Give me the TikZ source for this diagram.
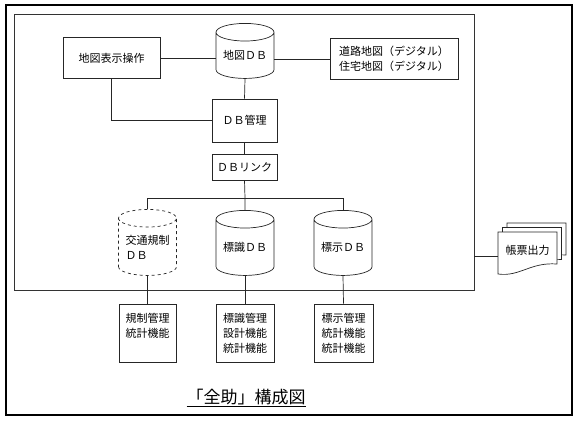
\documentclass[tikz,border=0pt]{standalone}
\usepackage{fontspec}
\setmainfont{Noto Sans CJK JP}
\usetikzlibrary{shapes.geometric}
\tikzset{
  box/.style={draw=black!85, line width=0.7pt, inner sep=2pt, align=left, font=\fontsize{11}{15}\selectfont},
  dbcyl/.style={cylinder, shape border rotate=90, draw=black!85, line width=0.7pt, aspect=0.4,
     minimum width=58pt, minimum height=55pt, inner sep=0pt, align=left, font=\fontsize{11}{15}\selectfont},
  conn/.style={draw=black!85, line width=0.7pt},
}
\begin{document}
\begin{tikzpicture}[x=1pt,y=-1pt]
\useasboundingbox (0,0) rectangle (580,420);
\draw[line width=2.4pt] (6,5) rectangle (572,415);
\node[draw=black!80, line width=0.8pt, minimum width=460pt, minimum height=276pt, inner sep=0pt] (frame) at (244,152) {};

\node[box, minimum width=97pt, minimum height=41pt] (op) at (111.5,58) {地図表示操作};
\node[dbcyl] (mapdb) at (245,55.5) {地図ＤＢ};
\node[box, minimum width=128pt, minimum height=41pt] (road) at (394,59) {道路地図（デジタル）\\住宅地図（デジタル）};
\node[box, minimum width=65pt, minimum height=43pt] (mgmt) at (244.5,120.5) {ＤＢ管理};
\node[box, minimum width=65pt, minimum height=26pt] (link) at (244.5,167) {ＤＢリンク};
\coordinate (bus) at (245,198);

\node[dbcyl, dashed, minimum height=66pt] (c1) at (147.5,247) {交通規制\\ＤＢ};
\node[dbcyl, minimum height=65pt] (c2) at (245,247.5) {標識ＤＢ};
\node[dbcyl, minimum height=65pt] (c3) at (343,247.5) {標示ＤＢ};

\node[box, minimum width=57pt, minimum height=58pt] (b1) at (147.5,333) {規制管理\\統計機能\\\mbox{}};
\node[box, minimum width=58pt, minimum height=58pt] (b2) at (245,333) {標識管理\\設計機能\\統計機能};
\node[box, minimum width=59pt, minimum height=58pt] (b3) at (343.5,333) {標示管理\\統計機能\\統計機能};

% document stack
\begin{scope}[draw=black!85, line width=0.7pt, fill=white]
\foreach \d in {9,4.5,0}{
  \filldraw[shift={(\d,-\d)}] (498,232) -- (557,232) -- (557,264) .. controls (530,262) and (520,277) .. (498,274) -- cycle;
}
\end{scope}
\node[draw=none, minimum width=59pt, minimum height=42pt, font=\fontsize{11}{15}\selectfont] (doc) at (527.5,250) {帳票出力};

\node[font=\fontsize{17}{19}\selectfont] (title) at (246,398) {\underline{「全助」構成図}};

% connectors
\draw[conn] (op.east) -- (op.east -| mapdb.west);
\draw[conn] (road.west) -- (road.west -| mapdb.east);
\draw[conn] (mapdb.south) -- (mgmt.north);
\draw[conn] (op.south) |- (mgmt.west);
\draw[conn] (mgmt.south) -- (link.north);
\draw[conn] (link.south) -- (bus);
\draw[conn] (c1.north |- bus) -- (c3.north |- bus);
\draw[conn] (c1.north |- bus) -- (c1.north);
\draw[conn] (bus) -- (c2.north);
\draw[conn] (c3.north |- bus) -- (c3.north);
\draw[conn] (c1.south) -- (b1.north);
\draw[conn] (c2.south) -- (b2.north);
\draw[conn] (c3.south) -- (b3.north);
\coordinate (tap) at (474,256);
\draw[conn] (tap) -- (doc.west |- tap);
\end{tikzpicture}
\end{document}
